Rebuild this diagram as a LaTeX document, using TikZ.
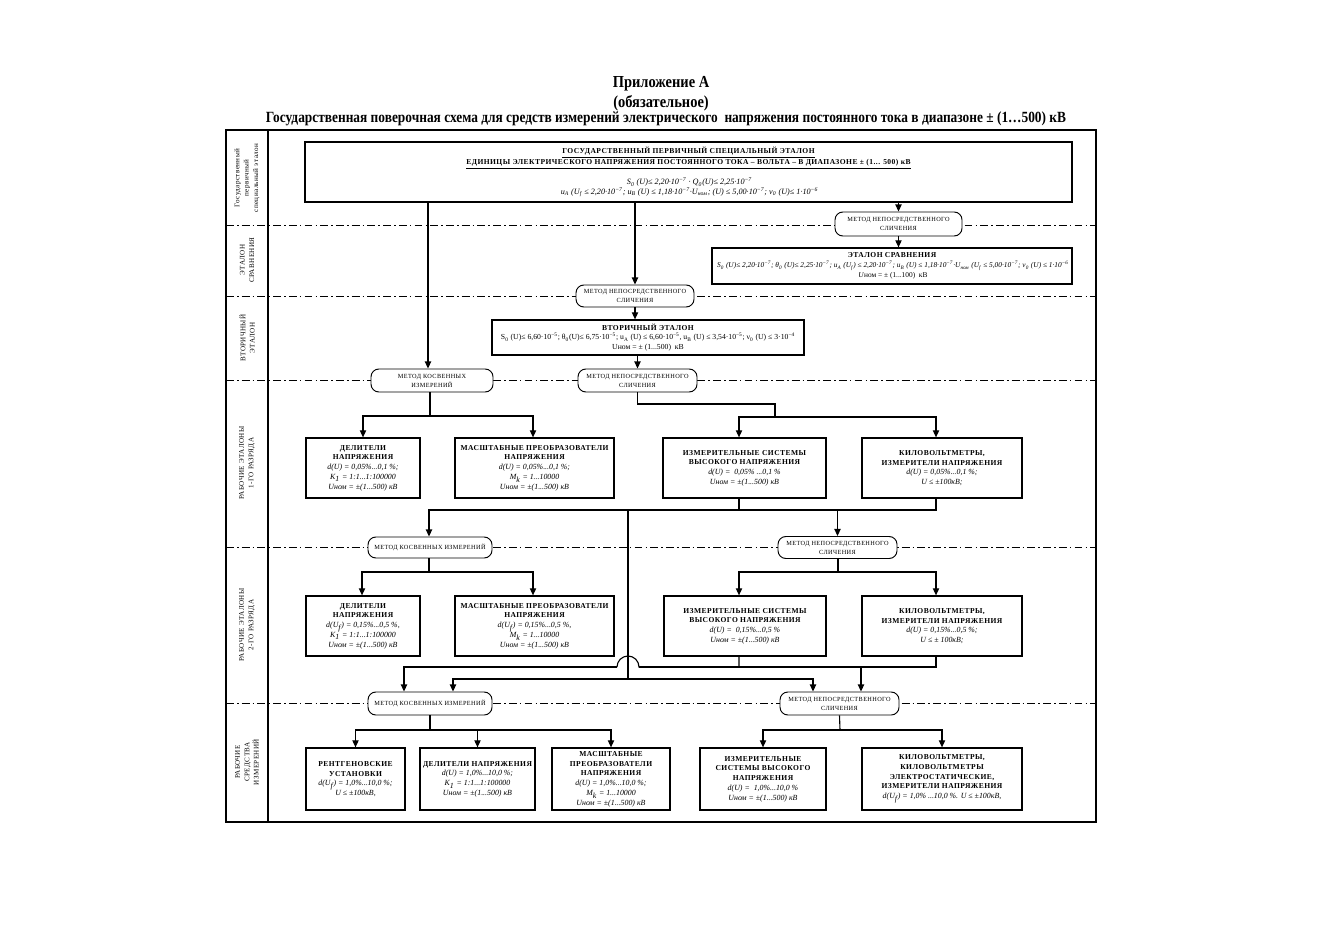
\documentclass[tikz,border=0pt]{standalone}
\usepackage{fontspec}
\setmainfont{Liberation Serif}
\newfontfamily\spaced[LetterSpace=6]{Liberation Serif}
\newfontfamily\narrow[FakeStretch=0.86]{Liberation Serif}
\usetikzlibrary{arrows.meta}
\newcommand\px{0.6364pt}
\newcommand\subs[1]{\textsubscript{#1}}
\newcommand\sups[1]{\textsuperscript{#1}}
\newcommand\hd{\fontsize{4.8}{6.2}\selectfont\spaced\bfseries}
\newcommand\fm{\fontsize{5}{6.2}\selectfont\rmfamily\mdseries\itshape}
\newcommand\fs[1]{\fontsize{#1}{6.2}\selectfont\rmfamily\mdseries\itshape}
\newcommand\fu{\fontsize{4.9}{6.2}\selectfont\rmfamily\mdseries}
\newcommand\mt{\fontsize{4}{5.7}\selectfont\spaced}
\newcommand\lv{\fontsize{4.5}{6}\selectfont\spaced}

\begin{document}
\begin{tikzpicture}[x=0.6364pt,y=-0.6364pt,
  etalon/.style={draw, line width=0.8pt, fill=white, align=center, inner sep=0pt, font=\hd},
  method/.style={draw, line width=0.6pt, rounded corners=5pt, fill=white, align=center, inner sep=0pt, font=\mt},
  sz/.style n args={2}{minimum width=#1*\px, minimum height=#2*\px},
  sepline/.style={line width=0.5pt, dash pattern=on 5pt off 2pt on 1pt off 2pt},
  conn/.style={line width=0.7pt},
  arr/.style={conn, -{Triangle[width=4pt,length=4.5pt]}},
  level/.style={rotate=90, align=center, font=\lv}]

\useasboundingbox (0,0) rectangle (1323,936);

% titles
\node[font=\narrow\bfseries\fontsize{10.7}{12}\selectfont] (title1) at (661,84) {Приложение А};
\node[font=\narrow\bfseries\fontsize{10.7}{12}\selectfont] (title2) at (661,103) {(обязательное)};
\node[font=\narrow\bfseries\fontsize{9.9}{11}\selectfont] (title3) at (666,119) {Государственная поверочная схема для средств измерений электрического\ \ напряжения постоянного тока в диапазоне ± (1…500) кВ};

% frame and levels
\draw[line width=0.8pt] (226,130) rectangle (1096,822);
\draw[line width=0.8pt] (268,130) -- (268,822);
\foreach \y in {225,296,380,547,703}
  \draw[sepline] (226,\y) -- (1096,\y);

\node[level] (lv1) at (247,178) {Государственный\\первичный\\специальный эталон};
\node[level] (lv2) at (247,260) {ЭТАЛОН\\СРАВНЕНИЯ};
\node[level] (lv3) at (247,338) {ВТОРИЧНЫЙ\\ЭТАЛОН};
\node[level] (lv4) at (247,463) {РАБОЧИЕ ЭТАЛОНЫ\\1-ГО РАЗРЯДА};
\node[level] (lv5) at (247,625) {РАБОЧИЕ ЭТАЛОНЫ\\2-ГО РАЗРЯДА};
\node[level] (lv6) at (247,762) {РАБОЧИЕ\\СРЕДСТВА\\ИЗМЕРЕНИЙ};

% standards
\node[etalon, sz={767}{60}] (gpe) at (688.5,172) {\underline{ГОСУДАРСТВЕННЫЙ ПЕРВИЧНЫЙ СПЕЦИАЛЬНЫЙ ЭТАЛОН}\\
  \underline{ЕДИНИЦЫ ЭЛЕКТРИЧЕСКОГО НАПРЯЖЕНИЯ ПОСТОЯННОГО ТОКА – ВОЛЬТА – В ДИАПАЗОНЕ ± (1... 500) кВ}\\[4pt]
  \fs{5.2} S\subs{0} (U)≤ 2,20·10\sups{−7} · Q\subs{0}(U)≤ 2,25·10\sups{−7}\\
  \fs{5.2} u\subs{A} (U\subs{f} ≤ 2,20·10\sups{−7}; u\subs{B} (U) ≤ 1,18·10\sups{−7}·U\subs{ном}; (U) ≤ 5,00·10\sups{−7}; ν\subs{0} (U)≤ 1·10\sups{−6}};
\node[method, sz={127}{24}] (m1) at (898.5,224) {МЕТОД НЕПОСРЕДСТВЕННОГО\\СЛИЧЕНИЯ};
\node[etalon, sz={360}{36}] (etsr) at (892,266) {ЭТАЛОН СРАВНЕНИЯ\\
  \fs{4.7} S\subs{0} (U)≤ 2,20·10\sups{−7}; θ\subs{0} (U)≤ 2,25·10\sups{−7}; u\subs{A} (U\subs{f}) ≤ 2,20·10\sups{−7}; u\subs{B} (U) ≤ 1,18·10\sups{−7}·U\subs{ном} (U\subs{f} ≤ 5,00·10\sups{−7}; ν\subs{0} (U) ≤ 1·10\sups{−6}\\
  \fs{4.7} U\textup{ном = ± (1...100)\ \ кВ}};
\node[method, sz={118}{22}] (m2) at (635,296) {МЕТОД НЕПОСРЕДСТВЕННОГО\\СЛИЧЕНИЯ};
\node[etalon, sz={312}{35}] (sec) at (648,337.5) {ВТОРИЧНЫЙ ЭТАЛОН\\
  \fu S\subs{0} (U)≤ 6,60·10\sups{−5}; θ\subs{0}(U)≤ 6,75·10\sups{−5}; u\subs{A} (U) ≤ 6,60·10\sups{−5}, u\subs{B} (U) ≤ 3,54·10\sups{−5}; ν\subs{0} (U) ≤ 3·10\sups{−4}\\
  \fu Uном = ± (1...500)\ \ кВ};
\node[method, sz={122}{23}] (m3) at (432,380.5) {МЕТОД КОСВЕННЫХ\\ИЗМЕРЕНИЙ};
\node[method, sz={119}{23}] (m4) at (637.5,380.5) {МЕТОД НЕПОСРЕДСТВЕННОГО\\СЛИЧЕНИЯ};

% working standards, 1st rank
\node[etalon, sz={114}{60}] (a1) at (363,468) {ДЕЛИТЕЛИ\\НАПРЯЖЕНИЯ\\\fm d(U) = 0,05\%...0,1 \%;\\\fm K\subs{1} = 1:1...1:100000\\\fm Uном = ±(1...500) кВ};
\node[etalon, sz={159}{60}] (a2) at (534.5,468) {МАСШТАБНЫЕ ПРЕОБРАЗОВАТЕЛИ\\НАПРЯЖЕНИЯ\\\fm d(U) = 0,05\%...0,1 \%;\\\fm M\subs{k} = 1...10000\\\fm Uном = ±(1...500) кВ};
\node[etalon, sz={163}{60}] (a3) at (744.5,468) {ИЗМЕРИТЕЛЬНЫЕ СИСТЕМЫ\\ВЫСОКОГО НАПРЯЖЕНИЯ\\\fm d(U) =\ \ 0,05\% ...0,1 \%\\\fm Uном = ±(1...500) кВ};
\node[etalon, sz={160}{60}] (a4) at (942,468) {КИЛОВОЛЬТМЕТРЫ,\\ИЗМЕРИТЕЛИ НАПРЯЖЕНИЯ\\\fm d(U) = 0,05\%...0,1 \%;\\\fm U ≤ ±100кВ;};
\node[method, sz={124}{21}] (m5) at (430,547.5) {МЕТОД КОСВЕННЫХ ИЗМЕРЕНИЙ};
\node[method, sz={119}{22}] (m6) at (837.5,547.5) {МЕТОД НЕПОСРЕДСТВЕННОГО\\СЛИЧЕНИЯ};

% working standards, 2nd rank
\node[etalon, sz={114}{60}] (b1) at (363,626) {ДЕЛИТЕЛИ\\НАПРЯЖЕНИЯ\\\fm d(U\subs{f}) = 0,15\%...0,5 \%,\\\fm K\subs{1} = 1:1...1:100000\\\fm Uном = ±(1...500) кВ};
\node[etalon, sz={159}{60}] (b2) at (534.5,626) {МАСШТАБНЫЕ ПРЕОБРАЗОВАТЕЛИ\\НАПРЯЖЕНИЯ\\\fm d(U\subs{f}) = 0,15\%...0,5 \%,\\\fm M\subs{k} = 1...10000\\\fm Uном = ±(1...500) кВ};
\node[etalon, sz={162}{60}] (b3) at (745,626) {ИЗМЕРИТЕЛЬНЫЕ СИСТЕМЫ\\ВЫСОКОГО НАПРЯЖЕНИЯ\\\fm d(U) =\ \ 0,15\%...0,5 \%\\\fm Uном = ±(1...500) кВ};
\node[etalon, sz={160}{60}] (b4) at (942,626) {КИЛОВОЛЬТМЕТРЫ,\\ИЗМЕРИТЕЛИ НАПРЯЖЕНИЯ\\\fm d(U) = 0,15\%...0,5 \%;\\\fm U ≤ ± 100кВ;};
\node[method, sz={124}{23}] (m7) at (430,703.5) {МЕТОД КОСВЕННЫХ ИЗМЕРЕНИЙ};
\node[method, sz={119}{23}] (m8) at (839.5,703.5) {МЕТОД НЕПОСРЕДСТВЕННОГО\\СЛИЧЕНИЯ};

% working measuring instruments
\node[etalon, sz={99}{62}] (c1) at (355.5,779) {РЕНТГЕНОВСКИЕ\\УСТАНОВКИ\\\fm d(U\subs{f}) = 1,0\%...10,0 \%;\\\fm U ≤ ±100кВ,};
\node[etalon, sz={115}{62}] (c2) at (477.5,779) {ДЕЛИТЕЛИ НАПРЯЖЕНИЯ\\\fm d(U) = 1,0\%...10,0 \%;\\\fm K\subs{1} = 1:1...1:100000\\\fm Uном = ±(1...500) кВ};
\node[etalon, sz={118}{62}] (c3) at (611,779) {МАСШТАБНЫЕ\\ПРЕОБРАЗОВАТЕЛИ\\НАПРЯЖЕНИЯ\\\fm d(U) = 1,0\%...10,0 \%;\\\fm M\subs{k} = 1...10000\\\fm Uном = ±(1...500) кВ};
\node[etalon, sz={126}{62}] (c4) at (763,779) {ИЗМЕРИТЕЛЬНЫЕ\\СИСТЕМЫ ВЫСОКОГО\\НАПРЯЖЕНИЯ\\\fm d(U) =\ \ 1,0\%...10,0 \%\\\fm Uном = ±(1...500) кВ};
\node[etalon, sz={160}{62}] (c5) at (942,779) {КИЛОВОЛЬТМЕТРЫ,\\КИЛОВОЛЬТМЕТРЫ\\ЭЛЕКТРОСТАТИЧЕСКИЕ,\\ИЗМЕРИТЕЛИ НАПРЯЖЕНИЯ\\\fm d(U\subs{f}) = 1,0\% ...10,0 \%. U ≤ ±100кВ,};

% connectors, top part
\draw[arr] (gpe.south -| m1) -- (m1.north);
\draw[arr] (m1.south) -- (m1.south |- etsr.north);
\draw[arr] (gpe.south -| m2) -- (m2.north);
\draw[arr] (gpe.south -| 428,0) -- (m3.north -| 428,0);
\draw[arr] (m2.south) -- (m2.south |- sec.north);
\draw[arr] (sec.south -| m4) -- (m4.north);

% 1st rank
\coordinate (j3) at (430,416);
\draw[conn] (m3.south -| j3) -- (j3);
\draw[arr] (j3) -| (a1.north -| 363,0);
\draw[arr] (j3) -| (a2.north -| 533,0);
\coordinate (j4) at (775,404);
\coordinate (j4b) at (775,417);
\draw[conn] (m4.south) |- (j4) -- (j4b);
\draw[arr] (j4b) -| (a3.north -| 739,0);
\draw[arr] (j4b) -| (a4.north -| 936,0);

% bus below 1st rank
\coordinate (bus1) at (628,510);
\draw[conn] (a3.south -| 739,0) |- (bus1);
\draw[conn] (a4.south -| 936,0) |- (bus1);
\draw[arr] (bus1) -| (m5.north -| 429,0);
\draw[arr] (bus1) -| (m6.north);

% 2nd rank
\coordinate (j5) at (429,572);
\draw[conn] (m5.south -| j5) -- (j5);
\draw[arr] (j5) -| (b1.north -| 362,0);
\draw[arr] (j5) -| (b2.north -| 533,0);
\coordinate (j6) at (838,572);
\draw[conn] (m6.south -| j6) -- (j6);
\draw[arr] (j6) -| (b3.north -| 739,0);
\draw[arr] (j6) -| (b4.north -| 936,0);

% bus below 2nd rank, hopping over the line from the 1st rank
\coordinate (bus2) at (628,679);
\coordinate (hopl) at (617,667);
\coordinate (hopr) at (639,667);
\draw[conn] (bus1) -- (bus2);
\draw[arr] (bus2) -| (m7.north -| 453,0);
\draw[arr] (bus2) -| (m8.north -| 813,0);
\draw[conn] (b3.south -| 739,0) |- (hopr) arc[start angle=0, end angle=-180, radius=11];
\draw[conn] (b4.south -| 936,0) |- (hopr);
\draw[arr] (hopl) -| (m7.north -| 404,0);
\draw[arr] (b4.south -| 936,0) |- (861,667) -- (m8.north -| 861,0);

% instruments
\coordinate (j7) at (430,730);
\draw[conn] (m7.south) -- (j7);
\draw[arr] (j7) -| (c1.north);
\draw[arr] (j7) -| (c2.north);
\draw[arr] (j7) -| (c3.north);
\coordinate (j8) at (840,730);
\draw[conn] (m8.south) -- (j8);
\draw[arr] (j8) -| (c4.north);
\draw[arr] (j8) -| (c5.north);
\end{tikzpicture}
\end{document}
